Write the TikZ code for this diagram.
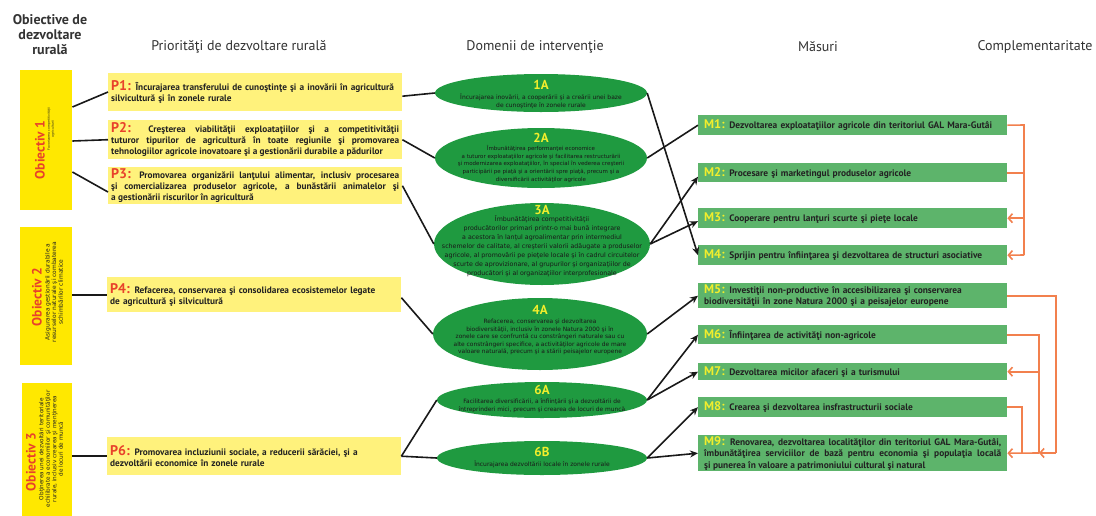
\documentclass[tikz,border=0pt]{standalone}
\usepackage{fontspec}
\setmainfont{PT Sans}
\newfontfamily\dv{DejaVu Sans}
\usetikzlibrary{shapes.geometric,arrows.meta,calc}
\definecolor{objy}{HTML}{FFE800}
\definecolor{py}{HTML}{FFF27C}
\definecolor{pred}{HTML}{E8412B}
\definecolor{eg}{HTML}{1F9A40}
\definecolor{mg}{HTML}{5DB46B}
\definecolor{ly}{HTML}{F2EE2C}
\definecolor{orl}{HTML}{F2804E}
\definecolor{td}{HTML}{222222}
\definecolor{hd}{HTML}{333333}
\newcommand{\plab}[1]{{\fontsize{14}{10}\selectfont\color{pred}#1:}}
\newcommand{\mlab}[1]{{\fontsize{12.5}{10}\selectfont\color{ly}#1:}}
\tikzset{
  hdr/.style={text=hd, font=\fontsize{14}{15}\selectfont, inner sep=0pt},
  objbox/.style={fill=objy, draw=none, anchor=north west, inner sep=0pt},
  otitle/.style={rotate=90, text=pred, font=\fontsize{13.5}{14}\selectfont\bfseries, inner sep=0pt},
  osub/.style={rotate=90, text=td, align=center, inner sep=0pt},
  pbox/.style={fill=py, draw=none, anchor=north west, text width=288pt, inner xsep=3pt, inner ysep=0pt,
    minimum height=#1, text=td, font=\fontsize{9.3}{11}\selectfont\bfseries\hyphenpenalty10000\exhyphenpenalty10000},
  mbox/.style={fill=mg, draw=none, anchor=north west, text width=297pt, inner xsep=6pt, inner ysep=0pt,
    minimum height=#1, text=td, font=\fontsize{9.4}{11.5}\selectfont\bfseries\hyphenpenalty10000\exhyphenpenalty10000},
  ell/.style={ellipse, fill=eg, draw=none, inner sep=0pt},
  elab/.style={text=ly, font=\fontsize{13}{13}\selectfont\bfseries, inner sep=0pt},
  etxt/.style={text=black!90, align=center, inner sep=0pt},
  conn/.style={draw=black!90, line width=1.6pt},
  arr/.style={conn, -{Stealth[length=8pt,width=7pt]}},
  oline/.style={draw=orl, line width=1.6pt},
  oarr/.style={oline, -{Straight Barb[length=4pt,width=9pt,line width=1.6pt]}}
}
\begin{document}
\begin{tikzpicture}[x=1pt,y=-1pt]
\fill[white] (0,0) rectangle (1096,515);
\useasboundingbox (0,0) rectangle (1096,515);

% headers
\node[hdr, font=\fontsize{14}{15}\selectfont\bfseries, align=center] (h0) at (50,35) {Obiective de\\dezvoltare\\rurală};
\node[hdr] (h1) at (239,47) {Priorităţi de dezvoltare rurală};
\node[hdr] (h2) at (535,47) {Domenii de intervenţie};
\node[hdr] (h3) at (818,47) {Măsuri};
\node[hdr] (h4) at (1035,47) {Complementaritate};

% objectives
\node[objbox, minimum width=52pt, minimum height=140pt] (o1) at (20,70) {};
\node[objbox, minimum width=52pt, minimum height=138pt] (o2) at (20,227) {};
\node[objbox, minimum width=50pt, minimum height=147pt] (o3) at (22,383) {};
\node[otitle] (o1t) at (40,150) {Obiectiv 1};
\node[osub, font=\dv\fontsize{3.1}{4}\selectfont] (o1s) at (51,129) {Favorizarea competitivităţii\\agriculturii};
\node[otitle] (o2t) at (37,297) {Obiectiv 2};
\node[osub, font=\dv\fontsize{5.9}{6.7}\selectfont] (o2s) at (54,292) {Asigurarea gestionării durabile a\\resurselor naturale şi combaterea\\schimbărilor climatice};
\node[otitle] (o3t) at (31,462) {Obiectiv 3};
\node[osub, font=\dv\fontsize{5.7}{6.5}\selectfont] (o3s) at (51,449) {Obţinerea unei dezvoltări teritoriale\\echilibrate a economiilor şi comunităţilor\\rurale, inclusiv crearea şi menţinerea\\de locuri de muncă};

% priorities
\node[pbox=38pt, align=left] (p1) at (108,73) {\plab{P1} Încurajarea transferului de cunoştinţe şi a inovării în agricultură\\silvicultură şi în zonele rurale};
\node[pbox=39pt, align=justify] (p2) at (108,120) {\plab{P2} Creşterea viabilităţii exploataţiilor şi a competitivităţii\linebreak tuturor tipurilor de agricultură în toate regiunile şi promovarea\linebreak tehnologiilor agricole inovatoare şi a gestionării durabile a pădurilor};
\node[pbox=37pt, align=justify] (p3) at (108,167) {\plab{P3} Promovarea organizării lanţului alimentar, inclusiv procesarea\linebreak şi comercializarea produselor agricole, a bunăstării animalelor şi\linebreak a gestionării riscurilor în agricultură};
\node[pbox=35pt, align=left] (p4) at (107,277) {\plab{P4} Refacerea, conservarea şi consolidarea ecosistemelor legate\\de agricultură şi silvicultură};
\node[pbox=38pt, align=left] (p6) at (107,437) {\plab{P6} Promovarea incluziunii sociale, a reducerii sărăciei, şi a\\dezvoltării economice în zonele rurale};

% domains
\node[ell, minimum width=212pt, minimum height=38pt] (e1a) at (541,93) {};
\node[elab] (e1al) at (541,85) {1A};
\node[etxt, font=\dv\fontsize{6}{8}\selectfont] (e1at) at (541,101) {Încurajarea inovării, a cooperării şi a creării unei baze\\de cunoştinţe în zonele rurale};

\node[ell, minimum width=212pt, minimum height=60pt] (e2a) at (541,158) {};
\node[elab] (e2al) at (541,138) {2A};
\node[etxt, font=\dv\fontsize{5.5}{7.7}\selectfont] (e2at) at (541,164) {Îmbunătăţirea performanţei economice\\a tuturor exploataţiilor agricole şi facilitarea restructurării\\şi modernizarea exploataţiilor, în special în vederea creşterii\\participării pe piaţă şi a orientării spre piaţă, precum şi a\\diversificării activităţilor agricole};

\node[ell, minimum width=216pt, minimum height=82pt] (e3a) at (542,244) {};
\node[elab] (e3al) at (542,210) {3A};
\node[etxt, font=\dv\fontsize{6.3}{9}\selectfont] (e3at) at (542,246.5) {Îmbunătăţirea competitivităţii\\producătorilor primari printr-o mai bună integrare\\a acestora în lanţul agroalimentar prin intermediul\\schemelor de calitate, al creşterii valorii adăugate a produselor\\agricole, al promovării pe pieţele locale şi în cadrul circuitelor\\scurte de aprovizionare, al grupurilor şi organizaţiilor de\\producători şi al organizaţiilor interprofesionale};

\node[ell, minimum width=214pt, minimum height=72pt] (e4a) at (540,334) {};
\node[elab] (e4al) at (540,310) {4A};
\node[etxt, font=\dv\fontsize{5.9}{7.5}\selectfont] (e4at) at (540,337) {Refacerea, conservarea şi dezvoltarea\\biodiversităţii, inclusiv în zonele Natura 2000 şi în\\zonele care se confruntă cu constrângeri naturale sau cu\\alte constrângeri specifice, a activităţilor agricole de mare\\valoare naturală, precum şi a stării peisajelor europene};

\node[ell, minimum width=210pt, minimum height=36pt] (e6a) at (542,400) {};
\node[elab] (e6al) at (542,390) {6A};
\node[etxt, font=\dv\fontsize{5.9}{7.6}\selectfont] (e6at) at (542,405.5) {Facilitarea diversificării, a înfiinţării şi a dezvoltării de\\întreprinderi mici, precum şi crearea de locuri de muncă};

\node[ell, minimum width=210pt, minimum height=34pt] (e6b) at (542,458) {};
\node[elab] (e6bl) at (542,451.5) {6B};
\node[etxt, font=\dv\fontsize{6}{7.6}\selectfont] (e6bt) at (542,464.5) {Încurajarea dezvoltării locale în zonele rurale};

% measures
\node[mbox=20pt, align=left] (m1) at (698,115) {\mlab{M1} Dezvoltarea exploataţiilor agricole din teritoriul GAL Mara-Gutâi};
\node[mbox=19pt, align=left] (m2) at (698,163) {\mlab{M2} Procesare şi marketingul produselor agricole};
\node[mbox=20pt, align=left] (m3) at (698,208) {\mlab{M3} Cooperare pentru lanţuri scurte şi pieţe locale};
\node[mbox=20pt, align=left] (m4) at (698,245) {\mlab{M4} Sprijin pentru înfiinţarea şi dezvoltarea de structuri asociative};
\node[mbox=25pt, align=left] (m5) at (698,283) {\mlab{M5} Investiţii non-productive în accesibilizarea şi conservarea\\biodiversităţii în zone Natura 2000 şi a peisajelor europene};
\node[mbox=19pt, align=left] (m6) at (698,325) {\mlab{M6} Înfiinţarea de activităţi non-agricole};
\node[mbox=17pt, align=left] (m7) at (698,363) {\mlab{M7} Dezvoltarea micilor afaceri şi a turismului};
\node[mbox=20pt, align=left] (m8) at (698,397) {\mlab{M8} Crearea şi dezvoltarea insfrastructurii sociale};
\node[mbox=36pt, align=justify] (m9) at (698,435) {\mlab{M9} Renovarea, dezvoltarea localităţilor din teritoriul GAL Mara-Gutâi,\linebreak îmbunătăţirea serviciilor de bază pentru economia şi populaţia locală\linebreak şi punerea în valoare a patrimoniului cultural şi natural};

% objectives -> priorities
\draw[conn] ($(o1.north east)+(0,37)$) -- ($(p1.north west)+(0,19)$);
\draw[conn] ($(o1.north east)+(0,71)$) -- (p2.west);
\draw[conn] ($(o1.north east)+(0,102)$) -- ($(p3.north west)+(0,25)$);
\draw[conn] (p4.west -| o2.east) -- (p4.west);
\draw[conn] (p6.west -| o3.east) -- (p6.west);

% priorities -> domains
\draw[conn] ($(p1.east)+(0,4)$) -- (e1a.west);
\draw[conn] (p2.east) -- (e2a.west);
\draw[conn] (p3.east) -- (e3a.west);
\draw[conn] ($(p4.east)+(0,3)$) -- (e4a.west);
\draw[conn] (p6.east) -- (e6a.west);
\draw[conn] (p6.east) -- (e6b.west);

% domains -> measures
\draw[arr] (e1a.east) -- (m4.west);
\draw[conn] (e2a.east) -- (m1.west);
\draw[arr] (e3a.east) -- ($(m2.west)+(0,4)$);
\draw[arr] (e3a.east) -- ($(m3.west)+(0,3)$);
\draw[arr] (e4a.east) -- (m5.west);
\draw[arr] (e6a.east) -- (m6.west);
\draw[arr] (e6a.east) -- (m7.west);
\draw[arr] (e6b.east) -- (m8.west);
\draw[arr] (e6b.east) -- (m9.west);

% complementarity
\coordinate (k1) at (1024,125);
\coordinate (k2) at (1024,255);
\draw[oline] (m1.east) -- (k1) -- (k2);
\draw[oline] (m2.east) -- (m2.east -| k1);
\draw[oarr] (m3.east -| k1) -- (m3.east);
\draw[oarr] (k2) -- (m4.east);

\coordinate (v5) at (1056,453);
\coordinate (v6) at (1039,453);
\coordinate (v8) at (1022,453);
\draw[oline] (m5.east) -| (v5);
\draw[oarr] (v5) -- (v6);
\draw[oline] (m6.east) -| (v6);
\draw[oarr] (m7.east -| v6) -- (m7.east);
\draw[oarr] (v6) -- (m9.east);
\draw[oline] (m8.east) -| (v8);
\end{tikzpicture}
\end{document}
